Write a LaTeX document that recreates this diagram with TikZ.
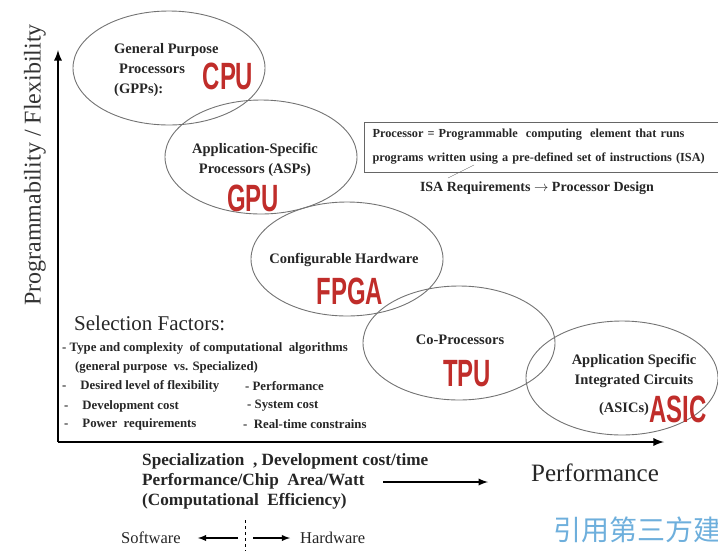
\documentclass[tikz,border=0pt]{standalone}
\usepackage{fontspec}
\setmainfont{Liberation Serif}
\newfontfamily\redfont[FakeStretch=0.63]{Liberation Sans}
\newfontfamily\cjk{Noto Sans CJK SC}
\usetikzlibrary{shapes.geometric,arrows,positioning}
\definecolor{tagred}{RGB}{192,45,42}
\definecolor{markblue}{RGB}{110,175,220}

\begin{document}
\begin{tikzpicture}[x=1pt,y=-1pt]
          \useasboundingbox (0,0) rectangle (718,550);

          \tikzstyle{chip}=[draw=black!55,ellipse,line width=0.9pt,minimum width=192pt,minimum height=114pt,inner sep=0]
          \tikzstyle{lbl}=[font=\bfseries\fontsize{14.5}{20}\selectfont,text=black!85,inner sep=0]
          \tikzstyle{tag}=[font=\redfont\bfseries\fontsize{38}{38}\selectfont,text=tagred,inner sep=0]
          \tikzstyle{fact}=[font=\bfseries\fontsize{12.8}{14}\selectfont,text=black!85,inner sep=0,anchor=west]
          \tikzstyle{axis}=[line width=2.6pt,-latex]

          % les axes
          \coordinate (O) at (58,442);
          \coordinate (Ytop) at (58,50);
          \coordinate (Xend) at (664,442);
          \draw[axis] (O) -- (Ytop);
          \draw[axis] (O) -- (Xend);
          \node[rotate=90,font=\fontsize{24}{24}\selectfont,text=black!80] (ylab) at (35,165) {Programmability / Flexibility};
          \node[font=\fontsize{25}{25}\selectfont,text=black!85] (xlab) at (595,473) {Performance};

          % les ellipses
          \node[chip] (cpu) at (169,68) {};
          \node[chip] (gpu) at (261,157) {};
          \node[chip] (fpga) at (347,259) {};
          \node[chip] (tpu) at (459,343) {};
          \node[chip] (asic) at (622,378) {};

          % CPU
          \node[lbl,align=left,anchor=west] (cpuL) at (114,70) {General Purpose\\\hspace*{5pt}Processors\\(GPPs):};
          \node[tag] (cpuT) at (228,76) {CPU};

          % GPU
          \node[lbl,align=center] (gpuL) at (255,160) {Application-Specific\\Processors (ASPs)};
          \node[tag] (gpuT) at (253,198) {GPU};

          % FPGA
          \node[lbl] (fpgaL) at (344,260) {Configurable Hardware};
          \node[tag] (fpgaT) at (350,291) {FPGA};

          % TPU
          \node[lbl] (tpuL) at (460,340) {Co-Processors};
          \node[tag] (tpuT) at (467,374) {TPU};

          % ASIC
          \node[lbl,align=center] (asicL) at (634,371) {Application Specific\\Integrated Circuits};
          \node[tag] (asicT) at (678,409) {ASIC};
          \node[lbl,anchor=east] (asicS) at (asicT.west) {(ASICs)};

          % definition du processeur
          \node[draw=black!60,line width=1pt,anchor=west,text width=370pt,minimum height=50pt,align=left,inner xsep=8pt,
                font=\bfseries\fontsize{12.3}{24}\selectfont,text=black!85] (isabox) at (364,147)
                {Processor = Programmable \ computing \ element that runs\\programs written using a pre-defined set of instructions (ISA)};
          \node[font=\bfseries\fontsize{14}{14}\selectfont,text=black!85] (isa) at (537,188) {ISA Requirements $\rightarrow$ Processor Design};
          \coordinate (isaref) at (474,165);
          \coordinate (isaend) at (448,178);
          \draw[black!60] (isaref) -- (isaend);

          % facteurs de selection
          \node[font=\fontsize{21}{21}\selectfont,anchor=west,inner sep=0,text=black!85] (sel) at (74,323) {Selection Factors:};
          \node[fact] (f1) at (62,348) {- Type and complexity \ of computational \ algorithms};
          \node[fact] (f2) at (75,367) {(general purpose \ vs. Specialized)};
          \node[fact] (f3) at (62,386) {-\hspace{14pt}Desired level of flexibility};
          \node[fact] (f4) at (64,406) {-\hspace{14pt}Development cost};
          \node[fact] (f5) at (64,424) {-\hspace{14pt}Power \ requirements};
          \node[fact] (f6) at (245,386) {- Performance};
          \node[fact] (f7) at (247,406) {- System cost};
          \node[fact] (f8) at (243,424) {- \ Real-time constrains};

          % en bas
          \node[font=\bfseries\fontsize{17.2}{20}\selectfont,align=left,anchor=west,inner sep=0,text=black!85] (spec) at (142,481)
                {Specialization \ , Development cost/time\\Performance/Chip \ Area/Watt\\(Computational \ Efficiency)};
          \coordinate (effA) at (383,482);
          \coordinate (effB) at (488,482);
          \draw[line width=2.2pt,-latex] (effA) -- (effB);

          % logiciel / materiel
          \node[font=\fontsize{16.5}{16.5}\selectfont,text=black!85,anchor=west,inner sep=0] (sw) at (121,538) {Software};
          \node[font=\fontsize{16.5}{16.5}\selectfont,text=black!85,anchor=west,inner sep=0] (hw) at (300,538) {Hardware};
          \coordinate (mid) at (245,538);
          \coordinate (midT) at (245,520);
          \coordinate (midB) at (245,552);
          \draw[line width=1pt,dashed] (midT) -- (midB);
          \draw[line width=1.8pt,-latex] ([xshift=-7pt]mid) -- ([xshift=17pt]sw.east);
          \draw[line width=1.8pt,-latex] ([xshift=8pt]mid) -- ([xshift=-10pt]hw.west);

          % filigrane
          \node[font=\cjk\fontsize{28}{28}\selectfont,text=markblue,anchor=west,inner sep=0] (mark) at (553,530) {引用第三方建议};
\end{tikzpicture}
\end{document}
